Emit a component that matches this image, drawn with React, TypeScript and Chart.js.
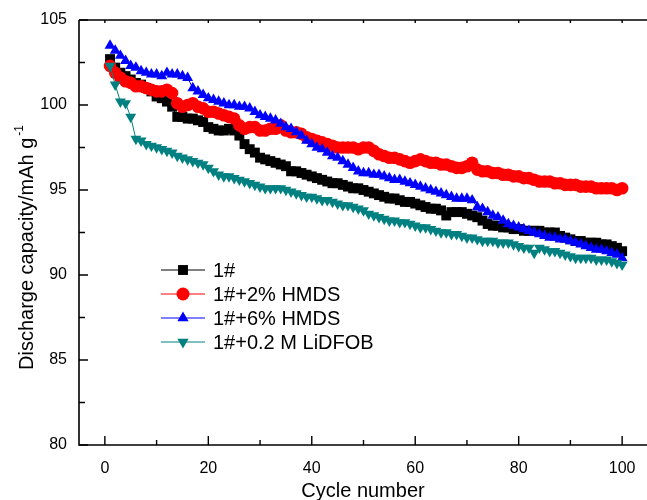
import React, { useEffect, useRef } from 'react';
import { Chart, registerables } from 'chart.js';
Chart.register(...registerables);

const cycles = [1,2,3,4,5,6,7,8,9,10,11,12,13,14,15,16,17,18,19,20,21,22,23,24,25,26,27,28,29,30,31,32,33,34,35,36,37,38,39,40,41,42,43,44,45,46,47,48,49,50,51,52,53,54,55,56,57,58,59,60,61,62,63,64,65,66,67,68,69,70,71,72,73,74,75,76,77,78,79,80,81,82,83,84,85,86,87,88,89,90,91,92,93,94,95,96,97,98,99,100];

const base1 = [102.7,102.2,101.9,101.7,101.5,101.3,101.2,101.0,100.8,100.5,100.4,100.2,99.9,99.3,99.3,99.2,99.2,99.1,99.0,98.7,98.6,98.5,98.5,98.6,98.5,98.2,97.7,97.4,97.2,96.9,96.8,96.7,96.6,96.5,96.4,96.1,96.1,96.0,95.9,95.8,95.7,95.6,95.5,95.4,95.4,95.3,95.2,95.1,95.1,95.0,94.9,94.8,94.7,94.6,94.5,94.5,94.4,94.3,94.3,94.2,94.1,94.0,93.9,93.9,93.8,93.5,93.7,93.7,93.7,93.6,93.5,93.4,93.2,93.0,92.9,92.9,92.8,92.8,92.7,92.7,92.6,92.6,92.6,92.6,92.5,92.5,92.5,92.3,92.2,92.1,92.0,92.0,91.9,91.9,91.9,91.8,91.8,91.7,91.6,91.4];

const hmds2 = [102.3,101.9,101.6,101.4,101.3,101.1,101.1,101.0,100.9,100.8,100.8,100.9,100.7,100.1,99.9,100.0,100.1,99.9,99.8,99.6,99.6,99.5,99.4,99.3,99.2,98.8,98.6,98.7,98.7,98.5,98.5,98.6,98.6,98.8,98.5,98.4,98.4,98.3,98.1,98.0,97.9,97.8,97.7,97.6,97.5,97.5,97.5,97.5,97.4,97.5,97.5,97.3,97.1,97.0,96.9,96.9,96.8,96.7,96.6,96.7,96.8,96.7,96.6,96.6,96.5,96.5,96.4,96.3,96.3,96.4,96.6,96.2,96.1,96.1,96.0,96.0,95.9,95.9,95.8,95.8,95.7,95.7,95.6,95.5,95.5,95.5,95.4,95.4,95.3,95.3,95.3,95.2,95.2,95.2,95.1,95.1,95.1,95.1,95.0,95.1];

const hmds6 = [103.5,103.2,102.9,102.6,102.3,102.2,102.0,101.9,101.8,101.8,101.7,101.9,101.8,101.8,101.7,101.6,101.0,100.8,100.6,100.4,100.3,100.2,100.1,100.0,100.0,99.9,99.9,99.8,99.6,99.4,99.3,99.2,99.1,98.9,98.7,98.6,98.4,98.2,97.9,97.7,97.5,97.4,97.2,97.0,96.9,96.7,96.5,96.3,96.1,96.0,96.0,95.9,95.9,95.8,95.7,95.6,95.6,95.5,95.4,95.3,95.2,95.1,95.0,94.9,94.8,94.7,94.6,94.5,94.5,94.5,94.4,94.0,93.9,93.7,93.5,93.4,93.2,93.0,92.9,92.8,92.7,92.6,92.5,92.4,92.3,92.2,92.2,92.1,92.1,92.0,91.9,91.8,91.7,91.6,91.5,91.5,91.4,91.3,91.2,91.0];

const lidfob = [102.3,101.2,100.2,100.1,99.3,98.0,97.9,97.7,97.6,97.5,97.4,97.3,97.2,97.0,96.9,96.8,96.7,96.6,96.5,96.3,96.1,95.9,95.8,95.8,95.7,95.6,95.5,95.4,95.3,95.2,95.1,95.1,95.1,95.1,95.0,94.9,94.8,94.7,94.6,94.6,94.5,94.4,94.4,94.3,94.2,94.1,94.1,94.0,93.9,93.8,93.6,93.5,93.4,93.3,93.2,93.2,93.1,93.1,93.0,92.9,92.8,92.8,92.7,92.6,92.5,92.5,92.4,92.4,92.3,92.2,92.2,92.1,92.0,92.0,92.0,91.9,91.9,91.9,91.8,91.7,91.6,91.6,91.3,91.6,91.5,91.4,91.4,91.3,91.2,91.1,91.0,91.0,91.0,91.0,90.9,90.9,90.9,90.8,90.7,90.6];

const seriesNames = ['1#', '1#+2% HMDS', '1#+6% HMDS', '1#+0.2 M LiDFOB'];
const seriesColors = ['#000000', '#ff0000', '#0000ff', '#008080'];
const seriesMarkers = ['rect', 'circle', 'triangle', 'triangleDown'];
const seriesData = [base1, hmds2, hmds6, lidfob];

const xMajorTicks = [0, 20, 40, 60, 80, 100];
const xMinorTicks = [10, 30, 50, 70, 90];
const yMajorTicks = [80, 85, 90, 95, 100, 105];
const yMinorTicks = [82.5, 87.5, 92.5, 97.5, 102.5];
const xTitle = 'Cycle number';
const yTitle = 'Discharge capacity/mAh g';
const yTitleSup = '-1';

const FONT = '"Liberation Sans", Arial, sans-serif';

function drawMarker(ctx: CanvasRenderingContext2D, kind: string, x: number, y: number, r: number, color: string) {
  ctx.save();
  ctx.fillStyle = color;
  ctx.beginPath();
  if (kind === 'rect') {
    const s = r * Math.SQRT1_2;
    ctx.rect(x - s, y - s, 2 * s, 2 * s);
  } else if (kind === 'circle') {
    ctx.arc(x, y, r, 0, Math.PI * 2);
  } else if (kind === 'triangle') {
    ctx.moveTo(x, y - r);
    ctx.lineTo(x + r * Math.sin(Math.PI / 3), y + r * 0.5);
    ctx.lineTo(x - r * Math.sin(Math.PI / 3), y + r * 0.5);
    ctx.closePath();
  } else {
    ctx.moveTo(x, y + r);
    ctx.lineTo(x + r * Math.sin(Math.PI / 3), y - r * 0.5);
    ctx.lineTo(x - r * Math.sin(Math.PI / 3), y - r * 0.5);
    ctx.closePath();
  }
  ctx.fill();
  ctx.restore();
}

const framePlugin = {
  id: 'frameAndDecor',
  afterDraw(chart: any) {
    const ctx: CanvasRenderingContext2D = chart.ctx;
    const { left, right, top, bottom } = chart.chartArea;
    const xs = chart.scales.x;
    const ys = chart.scales.y;
    ctx.save();
    ctx.strokeStyle = '#000';
    ctx.lineWidth = 1.6;
    ctx.beginPath();
    ctx.moveTo(left, top);
    ctx.lineTo(left, bottom);
    ctx.lineTo(right, bottom);
    ctx.lineTo(right, top);
    ctx.lineTo(left, top);
    ctx.stroke();
    ctx.lineWidth = 1.4;
    ctx.beginPath();
    xMajorTicks.forEach((v) => {
      const p = xs.getPixelForValue(v);
      ctx.moveTo(p, bottom); ctx.lineTo(p, bottom - 9);
      ctx.moveTo(p, top); ctx.lineTo(p, top + 3);
    });
    xMinorTicks.forEach((v) => {
      const p = xs.getPixelForValue(v);
      ctx.moveTo(p, bottom); ctx.lineTo(p, bottom - 5);
      ctx.moveTo(p, top); ctx.lineTo(p, top + 3);
    });
    yMajorTicks.forEach((v) => {
      const p = ys.getPixelForValue(v);
      ctx.moveTo(left, p); ctx.lineTo(left + 9, p);
    });
    yMinorTicks.forEach((v) => {
      const p = ys.getPixelForValue(v);
      ctx.moveTo(left, p); ctx.lineTo(left + 6, p);
    });
    ctx.stroke();

    // axis titles
    ctx.fillStyle = '#000';
    ctx.font = `20px ${FONT}`;
    ctx.textAlign = 'center';
    ctx.textBaseline = 'alphabetic';
    ctx.fillText(xTitle, 363, 497);

    ctx.save();
    ctx.translate(33, 370);
    ctx.rotate(-Math.PI / 2);
    ctx.textAlign = 'left';
    ctx.font = `20px ${FONT}`;
    ctx.fillText(yTitle, 0, 0);
    const w = ctx.measureText(yTitle).width;
    ctx.font = `12px ${FONT}`;
    ctx.fillText(yTitleSup, w + 2, -10);
    ctx.restore();

    // legend
    const rows = [270, 294, 318, 342];
    seriesNames.forEach((name, i) => {
      const yy = rows[i];
      ctx.strokeStyle = seriesColors[i];
      ctx.lineWidth = 1;
      ctx.beginPath();
      ctx.moveTo(161, yy);
      ctx.lineTo(205, yy);
      ctx.stroke();
      drawMarker(ctx, seriesMarkers[i], 183, yy, seriesMarkers[i] === 'rect' ? 7 : 6.5, seriesColors[i]);
      ctx.fillStyle = '#000';
      ctx.font = `20px ${FONT}`;
      ctx.textAlign = 'left';
      ctx.textBaseline = 'middle';
      ctx.fillText(name, 213, yy + 1);
    });
    ctx.restore();
  },
};

export default function App() {
  const ref = useRef<HTMLCanvasElement | null>(null);
  useEffect(() => {
    if (!ref.current) return;
    const datasets = seriesNames.map((name, i) => ({
      label: name,
      data: cycles.map((c, j) => ({ x: c, y: seriesData[i][j] })),
      borderColor: seriesColors[i],
      backgroundColor: seriesColors[i],
      borderWidth: 1,
      pointStyle: seriesMarkers[i] === 'triangleDown' ? 'triangle' : seriesMarkers[i],
      rotation: seriesMarkers[i] === 'triangleDown' ? 180 : 0,
      pointRadius: seriesMarkers[i] === 'rect' ? 7 : 6.3,
      pointBorderWidth: 0,
      pointBackgroundColor: seriesColors[i],
      pointBorderColor: seriesColors[i],
      tension: 0,
      order: 4 - i,
    }));
    const chart = new Chart(ref.current, {
      type: 'line',
      data: { datasets } as any,
      options: {
        animation: false,
        responsive: false,
        devicePixelRatio: 1,
        layout: { autoPadding: false, padding: { top: 20, right: 0, left: 0, bottom: 0 } },
        plugins: { legend: { display: false }, tooltip: { enabled: false } },
        scales: {
          x: {
            type: 'linear',
            min: -5,
            max: 105,
            grid: { display: false, drawTicks: false },
            border: { display: false },
            afterFit: (s: any) => { s.height = 55; s.paddingLeft = 0; s.paddingRight = 0; },
            afterBuildTicks: (s: any) => { s.ticks = xMajorTicks.map((v) => ({ value: v })); },
            ticks: { color: '#000', font: { size: 16, family: FONT }, padding: 14, maxRotation: 0 },
          },
          y: {
            type: 'linear',
            min: 80,
            max: 105,
            grid: { display: false, drawTicks: false },
            border: { display: false },
            afterFit: (s: any) => { s.width = 79; s.paddingTop = 0; s.paddingBottom = 0; },
            afterBuildTicks: (s: any) => { s.ticks = yMajorTicks.map((v) => ({ value: v })); },
            ticks: { color: '#000', font: { size: 16, family: FONT }, padding: 12 },
          },
        },
      } as any,
      plugins: [framePlugin],
    });
    return () => chart.destroy();
  }, []);
  return (
    <div style={{ position: 'absolute', left: 0, top: 0, width: 647, height: 500, overflow: 'hidden', background: '#fff' }}>
      <canvas ref={ref} width={648} height={500} style={{ display: 'block' }} />
    </div>
  );
}
